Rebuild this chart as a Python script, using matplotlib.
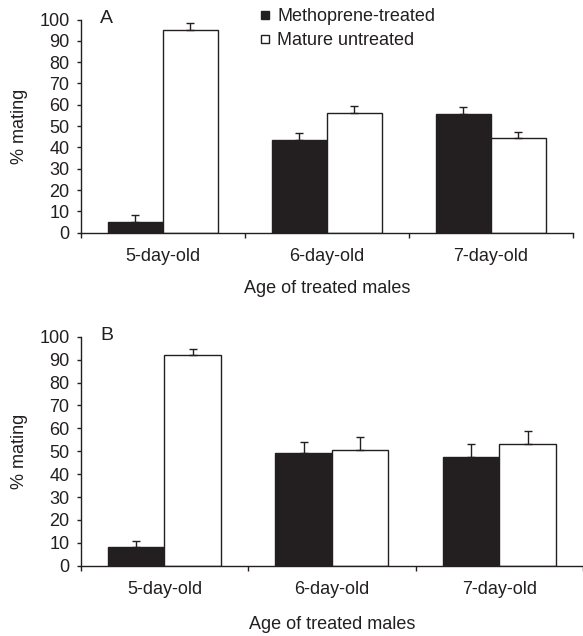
import matplotlib
matplotlib.use("Agg")
import matplotlib.pyplot as plt
import numpy as np
from matplotlib.lines import Line2D

plt.rcParams['font.family'] = ['Liberation Sans', 'DejaVu Sans']

categories = ["5-day-old", "6-day-old", "7-day-old"]
series_names = ["Methoprene-treated", "Mature untreated"]
panel_letters = ["A", "B"]

a_treated = [5.2, 43.7, 55.8]
a_treated_err = [3.3, 3.1, 3.2]
a_untreated = [95.1, 56.2, 44.4]
a_untreated_err = [3.4, 3.3, 2.9]

b_treated = [8.0, 49.3, 47.3]
b_treated_err = [2.6, 4.8, 6.0]
b_untreated = [92.0, 50.5, 53.0]
b_untreated_err = [2.8, 5.5, 5.8]

yticks = list(range(0, 101, 10))

DARK = '#231f20'
FS = 13

fig = plt.figure(figsize=(5.83, 6.36), dpi=100)
axA = fig.add_axes([0.1384, 0.6341, 0.8444, 0.3352])
axB = fig.add_axes([0.1384, 0.1105, 0.8616, 0.3601])

def draw(ax, tr, tr_e, un, un_e, letter, w, xlpad):
    x = np.arange(len(categories))
    ax.bar(x - w/2, tr, width=w, color=DARK, edgecolor=DARK, linewidth=1.0, zorder=2)
    ax.bar(x + w/2, un, width=w, color='white', edgecolor=DARK, linewidth=1.0, zorder=2)
    ax.errorbar(x - w/2, tr, yerr=[np.zeros(len(tr)), tr_e], fmt='none',
                ecolor=DARK, elinewidth=1.0, capsize=3, capthick=1.0, zorder=3)
    ax.errorbar(x + w/2, un, yerr=[np.zeros(len(un)), un_e], fmt='none',
                ecolor=DARK, elinewidth=1.0, capsize=3, capthick=1.0, zorder=3)
    ax.set_xlim(-0.5, len(categories) - 0.5)
    ax.set_ylim(0, 100)
    ax.set_yticks(yticks)
    ax.set_yticklabels([str(t) for t in yticks], fontsize=FS, color=DARK)
    ax.set_xticks(np.arange(len(categories) + 1) - 0.5)
    ax.set_xticklabels([])
    ax.set_xticks(x, minor=True)
    ax.set_xticklabels(categories, minor=True, fontsize=FS, color=DARK)
    ax.tick_params(axis='x', which='minor', length=0, pad=11)
    ax.tick_params(axis='x', which='major', length=3.5, width=1.0, color=DARK, direction='out')
    ax.tick_params(axis='y', length=3, width=1.0, color=DARK, direction='out', pad=5)
    for s in ['top', 'right']:
        ax.spines[s].set_visible(False)
    for s in ['left', 'bottom']:
        ax.spines[s].set_color(DARK)
        ax.spines[s].set_linewidth(1.0)
    ax.set_ylabel('% mating', fontsize=FS, color=DARK, labelpad=8)
    ax.set_xlabel('Age of treated males', fontsize=FS, color=DARK, labelpad=xlpad)
    ax.text(0.052, 1.005, letter, transform=ax.transAxes, fontsize=14, color=DARK,
            ha='center', va='center')

draw(axA, a_treated, a_treated_err, a_untreated, a_untreated_err, panel_letters[0], 0.335, 11)
draw(axB, b_treated, b_treated_err, b_untreated, b_untreated_err, panel_letters[1], 0.338, 13)

handles = [Line2D([], [], marker='s', linestyle='none', markersize=6,
                  markerfacecolor=DARK, markeredgecolor=DARK),
           Line2D([], [], marker='s', linestyle='none', markersize=6,
                  markerfacecolor='white', markeredgecolor=DARK, markeredgewidth=1.0)]
fig.legend(handles, series_names, loc='upper left',
           bbox_to_anchor=(245/583, 1 + 4.5/636), frameon=False, fontsize=FS,
           handlelength=0.8, handletextpad=0.3, labelspacing=0.4,
           borderpad=0.2, labelcolor=DARK)

fig.savefig('out.png', dpi=100)
